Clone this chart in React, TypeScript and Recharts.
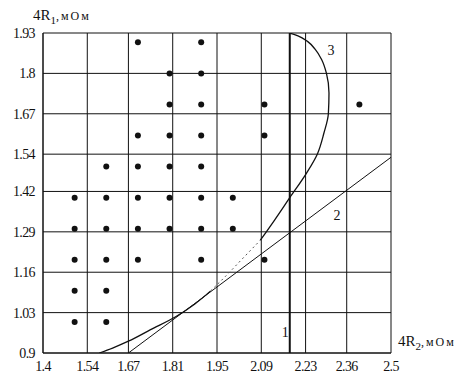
import { ComposedChart, Line, Scatter, XAxis, YAxis, CartesianGrid, ReferenceDot, Label } from 'recharts'

const xTicks = [1.4, 1.54, 1.67, 1.81, 1.95, 2.09, 2.23, 2.36, 2.5]
const yTicks = [0.9, 1.03, 1.16, 1.29, 1.42, 1.54, 1.67, 1.8, 1.93]

// curve 1 - vertical line
const line1 = [
  { x: 2.18, y: 0.9 },
  { x: 2.18, y: 1.93 },
]

// curve 2 - straight line
const line2 = [
  { x: 1.67, y: 0.9 },
  { x: 2.5, y: 1.53 },
]

// curve 3, split where it is drawn dotted (y rises all along, so monotoneY)
const curve3Low = [
  { x: 1.578, y: 0.9 },
  { x: 1.62, y: 0.916 },
  { x: 1.67, y: 0.938 },
  { x: 1.74, y: 0.975 },
  { x: 1.818, y: 1.016 },
  { x: 1.88, y: 1.058 },
  { x: 1.93, y: 1.1 },
]
const curve3Dotted = [
  { x: 1.93, y: 1.1 },
  { x: 1.98, y: 1.15 },
  { x: 2.03, y: 1.203 },
  { x: 2.087, y: 1.263 },
]
const curve3High = [
  { x: 2.087, y: 1.263 },
  { x: 2.132, y: 1.328 },
  { x: 2.18, y: 1.4 },
  { x: 2.233, y: 1.479 },
  { x: 2.267, y: 1.54 },
  { x: 2.288, y: 1.608 },
  { x: 2.302, y: 1.67 },
  { x: 2.304, y: 1.737 },
  { x: 2.296, y: 1.8 },
  { x: 2.281, y: 1.844 },
  { x: 2.26, y: 1.878 },
  { x: 2.236, y: 1.903 },
  { x: 2.206, y: 1.921 },
  { x: 2.179, y: 1.93 },
]

const dotColumns = [
  { x: 1.5, ys: [1.0, 1.1, 1.2, 1.3, 1.4] },
  { x: 1.6, ys: [1.0, 1.1, 1.2, 1.3, 1.4, 1.5] },
  { x: 1.7, ys: [1.2, 1.3, 1.4, 1.5, 1.6, 1.9] },
  { x: 1.8, ys: [1.3, 1.4, 1.5, 1.6, 1.7, 1.8] },
  { x: 1.9, ys: [1.2, 1.3, 1.4, 1.5, 1.6, 1.7, 1.8, 1.9] },
  { x: 2.0, ys: [1.3, 1.4] },
  { x: 2.1, ys: [1.2, 1.6, 1.7] },
  { x: 2.4, ys: [1.7] },
]
const dots = dotColumns.flatMap((c) => c.ys.map((y) => ({ x: c.x, y })))

const curveLabels = [
  { x: 2.166, y: 0.967, text: '1' },
  { x: 2.329, y: 1.344, text: '2' },
  { x: 2.31, y: 1.874, text: '3' },
]

const font = '"Liberation Serif", "Times New Roman", serif'
const ink = '#111'

const tickStyle = { fontFamily: font, fontSize: 14, fill: ink, letterSpacing: -0.6 }

function AxisTitle({ x, y, sub }: { x: number; y: number; sub: string }) {
  return (
    <text x={x} y={y} fontFamily={font} fontSize={15} fill={ink}>
      4R
      <tspan dy={4} fontSize={11}>{sub}</tspan>
      <tspan dy={-4} fontSize={12} letterSpacing={2}>,мОм</tspan>
    </text>
  )
}

const Dot = (p: any) => <circle cx={p.cx} cy={p.cy} r={3} fill={ink} />

export default function App() {
  return (
    <div style={{ position: 'absolute', left: 0, top: 0, background: '#fff' }}>
      <ComposedChart width={468} height={379} margin={{ top: 33, right: 77, bottom: 0, left: 0 }}>
        <CartesianGrid stroke={ink} strokeWidth={1} />
        <XAxis
          type="number"
          dataKey="x"
          domain={[1.4, 2.5]}
          ticks={xTicks}
          interval={0}
          allowDataOverflow
          tickLine={false}
          axisLine={{ stroke: ink }}
          tick={tickStyle}
          height={26}
        >
          <Label content={(p: any) => <AxisTitle x={p.viewBox.x + p.viewBox.width + 7} y={p.viewBox.y - 7} sub="2" />} />
        </XAxis>
        <YAxis
          type="number"
          dataKey="y"
          domain={[0.9, 1.93]}
          ticks={yTicks}
          interval={0}
          allowDataOverflow
          tickLine={false}
          axisLine={{ stroke: ink }}
          tick={tickStyle}
          width={43}
        >
          <Label content={(p: any) => <AxisTitle x={p.viewBox.x + 33} y={p.viewBox.y - 13} sub="1" />} />
        </YAxis>
        <Scatter data={dots} dataKey="y" shape={Dot} isAnimationActive={false} />
        <Line data={line1} dataKey="y" type="linear" stroke={ink} strokeWidth={2} dot={false} isAnimationActive={false} />
        <Line data={line2} dataKey="y" type="linear" stroke={ink} strokeWidth={1} dot={false} isAnimationActive={false} />
        <Line data={curve3Low} dataKey="y" type="monotoneY" stroke={ink} strokeWidth={1.3} dot={false} isAnimationActive={false} />
        <Line data={curve3Dotted} dataKey="y" type="monotoneY" stroke="#555" strokeWidth={1} strokeDasharray="2 3" dot={false} isAnimationActive={false} />
        <Line data={curve3High} dataKey="y" type="monotoneY" stroke={ink} strokeWidth={1.3} dot={false} isAnimationActive={false} />
        {curveLabels.map((l) => (
          <ReferenceDot
            key={l.text}
            x={l.x}
            y={l.y}
            r={0}
            fill="none"
            stroke="none"
            label={{ value: l.text, position: 'center', fontFamily: font, fontSize: 14, fill: ink }}
          />
        ))}
      </ComposedChart>
    </div>
  )
}
